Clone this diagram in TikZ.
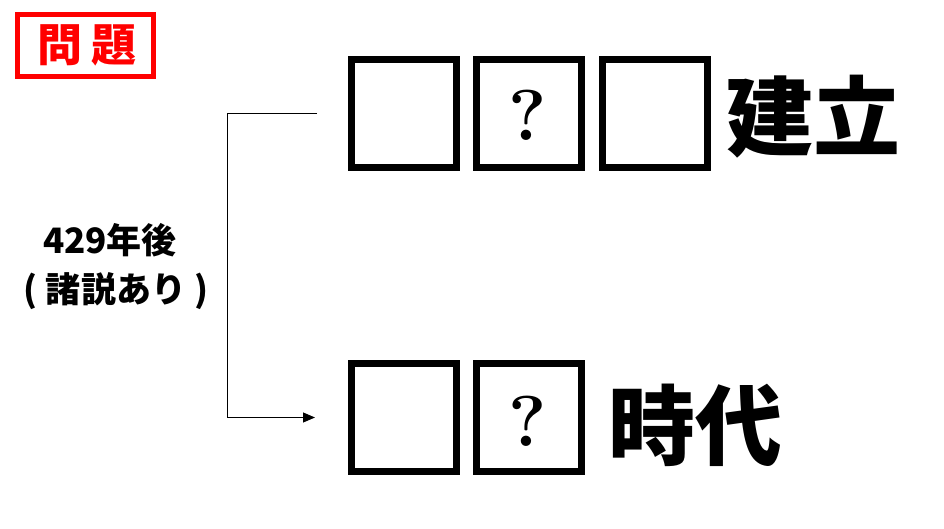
\documentclass[tikz,border=0pt]{standalone}
\usepackage{fontspec}
\newfontfamily\jp{Noto Sans CJK JP}
\usetikzlibrary{arrows.meta}
\tikzset{
  blank/.style={draw=black, line width=7pt, minimum width=105pt, minimum height=108pt, inner sep=0pt},
  qmark/.style={anchor=base, inner sep=0pt, font=\bfseries\fontsize{72}{78}\selectfont},
  bigtxt/.style={anchor=base, inner sep=0pt, font=\jp\bfseries\fontsize{87}{95}\selectfont},
  lab/.style={anchor=base, inner sep=0pt, font=\jp\bfseries\fontsize{35}{40}\selectfont},
  conn/.style={line width=1pt, draw=black},
  redbox/.style={draw=red, line width=5pt, fill=white, minimum width=136pt, minimum height=62pt, inner sep=0pt}
}
\begin{document}
\begin{tikzpicture}[x=1pt, y=-1pt]
\useasboundingbox[fill=white] (0,0) rectangle (944,529);
% title
\node[redbox] (title) at (85.5,45.5) {};
\node[anchor=base, inner sep=0pt, text=red, font=\jp\bfseries\fontsize{45}{48}\selectfont] (titletxt) at (86.5,62) {問\kern9pt 題};
% top row
\node[blank] (t1) at (404,113.5) {};
\node[blank] (t2) at (528.5,113.5) {};
\node[blank] (t3) at (655,113.5) {};
\node[qmark] (tq) at (528,141) {?};
\node[bigtxt] (ttxt) at (813,150) {建立};
% bottom row
\node[blank] (b1) at (404,417.5) {};
\node[blank] (b2) at (528.5,417.5) {};
\node[qmark] (bq) at (528,446) {?};
\node[bigtxt] (btxt) at (695,458) {時代};
% label
\node[lab] (l1) at (110,253) {429年後};
\node[lab] (l2) at (116,302) {( 諸説あり )};
% connector
\coordinate (cs) at (317,113.5);
\coordinate (ce) at (315,417.5);
\draw[conn, -{Triangle[length=12pt,width=10pt]}] (cs) -- (227,113.5) |- (ce);
\end{tikzpicture}
\end{document}
